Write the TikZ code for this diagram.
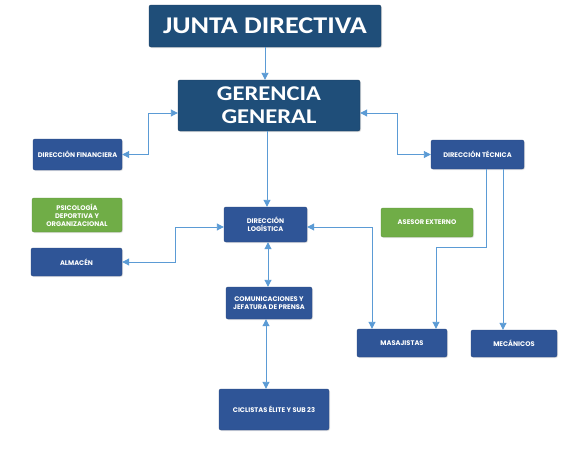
\documentclass[tikz,border=0pt]{standalone}
\usepackage{fontspec}
\usepackage{graphicx}
\setmainfont{Carlito}
\newfontfamily\smallfont{Poppins}
\usetikzlibrary{arrows.meta,shadows}
\definecolor{navy}{HTML}{1F4E79}
\definecolor{boxblue}{HTML}{2F5597}
\definecolor{boxgreen}{HTML}{70AD47}
\definecolor{linkblue}{HTML}{5B9BD5}
\newcommand{\wide}[1]{\scalebox{1.17}[1]{#1}}
\tikzset{
  titlebox/.style={fill=navy, draw=navy!80!black, rounded corners=2pt, text=white,
    font=\bfseries, align=center, inner sep=0pt, drop shadow={opacity=0.25,shadow xshift=1pt,shadow yshift=-1pt}},
  unitbox/.style={fill=boxblue, draw=boxblue!85!black, rounded corners=2pt, text=white,
    font=\smallfont\bfseries\fontsize{6.7}{8.2}\selectfont, align=center, inner sep=0pt,
    drop shadow={opacity=0.2,shadow xshift=1pt,shadow yshift=-1pt}},
  greenbox/.style={unitbox, fill=boxgreen, draw=boxgreen!85!black},
  link/.style={draw=linkblue, line width=0.9pt},
  arr/.style={link, -{Triangle[length=7pt,width=7pt]}},
  dbl/.style={link, {Triangle[length=7pt,width=7pt]}-{Triangle[length=7pt,width=7pt]}},
}
\begin{document}
\begin{tikzpicture}[x=1pt,y=-1pt]
\useasboundingbox[fill=white] (0,0) rectangle (570,450);
% nodes
\node[titlebox, minimum width=232pt, minimum height=42pt, font=\bfseries\fontsize{24}{26}\selectfont] (jd) at (265,26) {\wide{JUNTA DIRECTIVA}};
\node[titlebox, minimum width=182pt, minimum height=51pt, font=\bfseries\fontsize{21}{23}\selectfont] (gg) at (269,105.5) {\wide{GERENCIA}\\\wide{GENERAL}};
\node[unitbox, minimum width=89pt, minimum height=31pt] (fin) at (77.5,154.5) {DIRECCIÓN FINANCIERA};
\node[unitbox, minimum width=93pt, minimum height=29pt] (tec) at (477.5,154.5) {DIRECCIÓN TÉCNICA};
\node[greenbox, minimum width=90pt, minimum height=34pt] (psi) at (77,215) {PSICOLOGÍA\\DEPORTIVA Y\\ORGANIZACIONAL};
\node[unitbox, minimum width=83pt, minimum height=35pt] (log) at (265.5,224.5) {DIRECCIÓN\\LOGÍSTICA};
\node[greenbox, minimum width=92pt, minimum height=29pt] (ase) at (427,222.5) {ASESOR EXTERNO};
\node[unitbox, minimum width=91pt, minimum height=28pt] (alm) at (76.5,262) {ALMACÉN};
\node[unitbox, minimum width=86pt, minimum height=32pt] (com) at (269,303) {COMUNICACIONES Y\\JEFATURA DE PRENSA};
\node[unitbox, minimum width=90pt, minimum height=28pt] (mas) at (402,343) {MASAJISTAS};
\node[unitbox, minimum width=86pt, minimum height=27pt] (mec) at (514,343.5) {MECÁNICOS};
\node[unitbox, minimum width=110pt, minimum height=41pt] (cic) at (274,409.5) {CICLISTAS ÉLITE Y SUB 23};
% helper coordinates
\coordinate (gl) at (148,113);
\coordinate (gr) at (397,113);
\coordinate (ll) at (175,227);
\coordinate (lr) at (372,227);
\coordinate (t1) at (486,247);
\coordinate (t2) at (436,247);
\coordinate (t3) at (503,200);
% connectors
\draw[arr] (jd.south) -- (jd.south |- gg.north);
\draw[arr] (gg.south -| 267,0) -- (log.north -| 267,0);
\draw[dbl] (fin.east) -| (gl) -- (gl -| gg.west);
\draw[dbl] (tec.west) -| (gr) -- (gr -| gg.east);
\draw[dbl] (alm.east) -| (ll) -- (ll -| log.west);
\draw[dbl] (mas.north -| lr) -- (lr) -- (lr -| log.east);
\draw[dbl] (log.south -| 268,0) -- (com.north -| 268,0);
\draw[dbl] (com.south -| 266,0) -- (cic.north -| 266,0);
\draw[arr] (tec.south -| t1) -- (t1) -- (t2) -- (t2 |- mas.north);
\draw[arr] (tec.south -| t3) -- (t3 |- mec.north);
\end{tikzpicture}
\end{document}
